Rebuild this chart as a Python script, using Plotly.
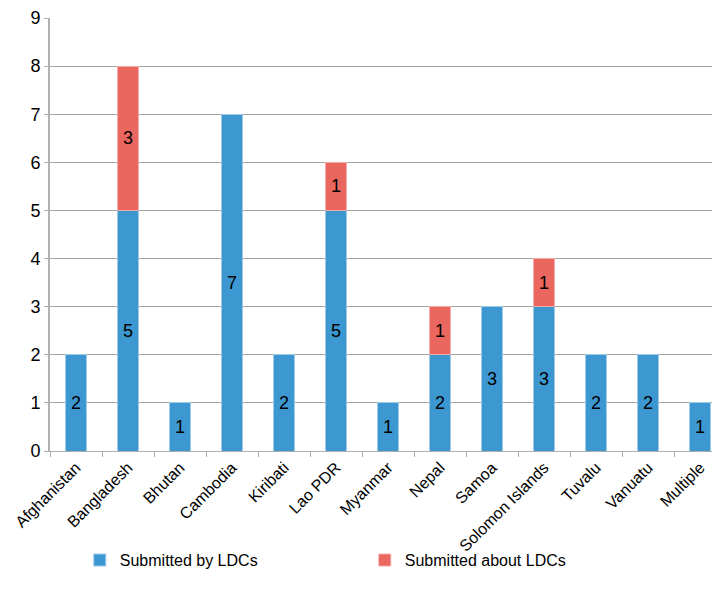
import plotly.graph_objects as go

countries = ["Afghanistan", "Bangladesh", "Bhutan", "Cambodia", "Kiribati", "Lao PDR",
             "Myanmar", "Nepal", "Samoa", "Solomon Islands", "Tuvalu", "Vanuatu", "Multiple"]
by_ldcs = [2, 5, 1, 7, 2, 5, 1, 2, 3, 3, 2, 2, 1]
about_ldcs = [0, 3, 0, 0, 0, 1, 0, 1, 0, 1, 0, 0, 0]

BLUE = "#3d97d0"
RED = "#e9675f"
FONT = "Liberation Sans, Arial, sans-serif"


def nz(vals):
    # empty segments are left out instead of drawn as zero-height slivers
    return [v if v else None for v in vals]


fig = go.Figure()
fig.add_trace(go.Bar(
    x=countries, y=nz(by_ldcs), name="Submitted by LDCs",
    marker=dict(color=BLUE, line=dict(color="#9ccbe8", width=1)),
    text=[str(v) if v else "" for v in by_ldcs],
    textposition="inside", insidetextanchor="middle", textangle=0,
    constraintext="none", textfont=dict(size=18, color="black", family=FONT),
    width=0.39,
))
fig.add_trace(go.Bar(
    x=countries, y=nz(about_ldcs), name="Submitted about LDCs",
    marker=dict(color=RED, line=dict(color="#f3aaa6", width=1)),
    text=[str(v) if v else "" for v in about_ldcs],
    textposition="inside", insidetextanchor="middle", textangle=0,
    constraintext="none", textfont=dict(size=18, color="black", family=FONT),
    width=0.39,
))

fig.update_layout(
    barmode="stack",
    width=712, height=600,
    margin=dict(l=50, r=0, t=18, b=149),
    plot_bgcolor="white", paper_bgcolor="white",
    font=dict(family=FONT, size=17, color="black"),
    showlegend=True,
    legend=dict(orientation="h", x=0.045, y=-0.252, xanchor="left", yanchor="middle",
                traceorder="normal", bgcolor="rgba(0,0,0,0)",
                entrywidth=240, entrywidthmode="pixels",
                font=dict(size=16, family=FONT)),
    xaxis=dict(
        range=[-0.5, 12.23], tickangle=-45, tickfont=dict(size=16),
        showline=True, linecolor="#b0b0b0", linewidth=1,
        ticks="outside", tickson="boundaries", ticklen=5, tickcolor="#b0b0b0",
        showgrid=False,
    ),
    yaxis=dict(
        range=[0, 9], dtick=1, tickfont=dict(size=18),
        showline=True, linecolor="#b0b0b0", linewidth=2,
        ticks="outside", ticklen=4, tickcolor="#b0b0b0",
        showgrid=True, gridcolor="#a6a6a6", gridwidth=1, zeroline=False,
    ),
)

fig.write_html("out.html")
